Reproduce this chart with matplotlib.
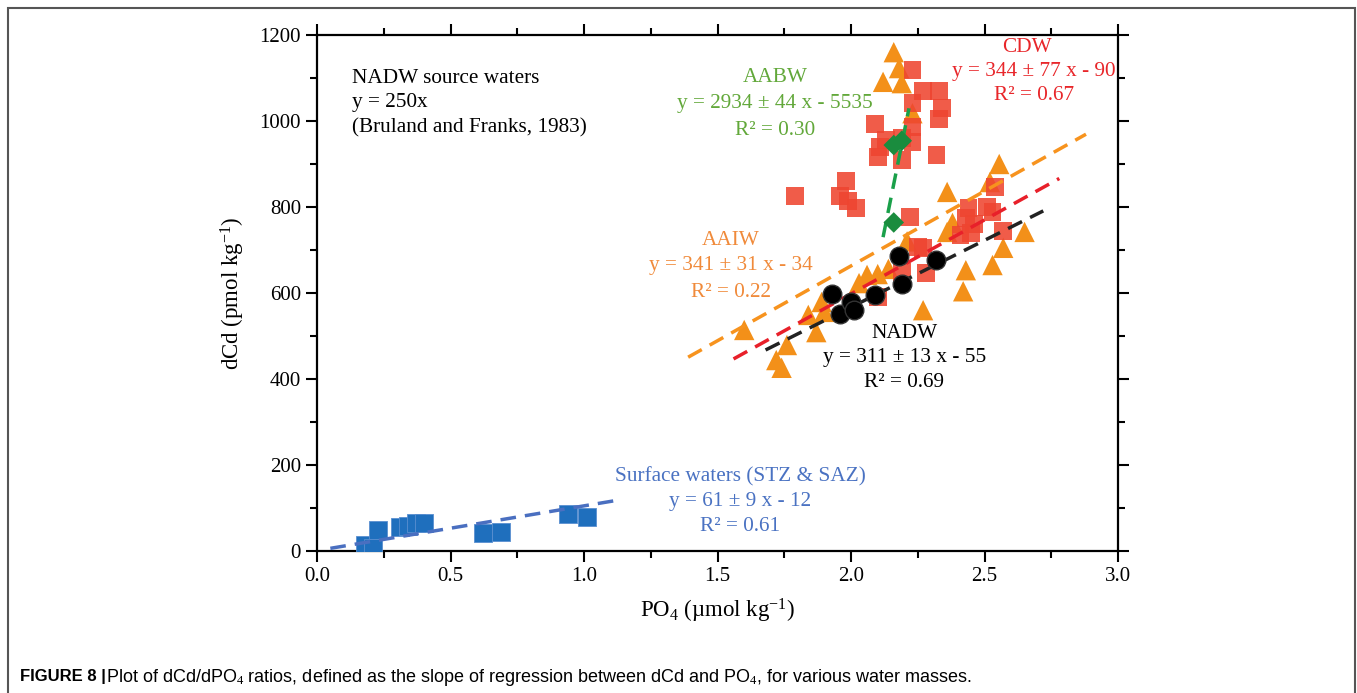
import matplotlib.pyplot as plt
from matplotlib.patches import Rectangle

plt.rcParams['font.family'] = ['Liberation Serif', 'DejaVu Serif']
plt.rcParams['mathtext.fontset'] = 'custom'
plt.rcParams['mathtext.rm'] = 'Liberation Serif'
plt.rcParams['mathtext.it'] = 'Liberation Serif:italic'
plt.rcParams['mathtext.bf'] = 'Liberation Serif:bold'

# surface waters (STZ & SAZ)
surf_x = [0.18, 0.21, 0.23, 0.31, 0.34, 0.37, 0.40, 0.62, 0.69, 0.94, 1.01]
surf_y = [14, 6, 49, 56, 58, 65, 66, 42, 45, 86, 79]

# CDW
cdw_x = [2.23, 2.27, 2.33, 2.23, 2.34, 2.33, 2.09, 2.23, 2.13, 2.11, 2.19, 2.23, 2.10,
         2.19, 2.32, 1.98, 1.79, 1.96, 1.99, 2.02, 2.22, 2.44, 2.51, 2.53, 2.43, 2.41,
         2.45, 2.57, 2.54, 2.25, 2.27, 2.19, 2.28, 2.10, 2.46]
cdw_y = [1119, 1070, 1070, 1042, 1030, 1005, 993, 986, 956, 940, 960, 951, 916,
         909, 921, 860, 826, 826, 814, 798, 777, 797, 800, 788, 774, 735,
         740, 744, 847, 707, 705, 649, 646, 591, 760]

# AAIW
aaiw_x = [2.16, 2.18, 2.12, 2.19, 2.23, 2.36, 2.38, 2.555, 2.52, 2.36, 2.65, 2.57,
          2.53, 2.43, 2.42, 2.27, 2.21, 2.14, 2.10, 2.06, 2.03, 1.89, 1.90, 1.84,
          1.87, 1.60, 1.76, 1.72, 1.74]
aaiw_y = [1160, 1123, 1091, 1088, 1018, 835, 763, 900, 858, 742, 742, 705,
          665, 653, 604, 560, 720, 656, 644, 642, 623, 579, 556, 549,
          509, 514, 479, 444, 426]

# NADW
nadw_x = [1.93, 1.96, 2.00, 2.01, 2.09, 2.18, 2.19, 2.32]
nadw_y = [598, 551, 579, 560, 595, 686, 621, 677]

# AABW
aabw_x = [2.16, 2.19, 2.16]
aabw_y = [944, 954, 764]

# fitted lines as drawn: slope, intercept, x range
fits = {
    'surf': (104, 1, 0.05, 1.14),
    'nadw': (311, -55, 1.68, 2.72),
    'cdw': (344, -90, 1.56, 2.78),
    'aaiw': (348, -33, 1.39, 2.88),
    'aabw': (3090, -5821, 2.12, 2.217),
}

c_blue = '#1f6fbd'
c_blue_txt = '#4a72c2'
c_red = '#ee4530'
c_red_txt = '#e8262a'
c_orange = '#f39019'
c_orange_txt = '#f08a3a'
c_green = '#1a8c3e'
c_green_txt = '#62a83a'

fig = plt.figure(figsize=(13.57, 6.93), dpi=100)
ax = fig.add_axes([0.2336, 0.2049, 0.5903, 0.7446])

ax.scatter(aaiw_x, aaiw_y, marker='^', s=215, color=c_orange, edgecolors='none', zorder=2)
ax.scatter(cdw_x, cdw_y, marker='s', s=165, color=c_red, alpha=0.88, edgecolors='none', zorder=3)
ax.scatter(surf_x, surf_y, marker='s', s=165, color=c_blue, edgecolors='#5a8fd0', linewidths=0.6, zorder=3)


def fit_line(key, color, z):
    a, b, x0, x1 = fits[key]
    ax.plot([x0, x1], [a * x0 + b, a * x1 + b], color=color, lw=2.5,
            dashes=(4.5, 2.6), zorder=z)


fit_line('aaiw', '#f7931e', 4)
fit_line('cdw', '#e8202a', 4)
fit_line('nadw', '#222222', 4)
fit_line('surf', '#4a6fc0', 4)
fit_line('aabw', '#1aa04a', 4)

ax.scatter(nadw_x, nadw_y, marker='o', s=180, color='black', edgecolors='#333333', zorder=5)
ax.scatter(aabw_x, aabw_y, marker='D', s=110, color=c_green, edgecolors='none', zorder=6)

ax.set_xlim(0, 3.0)
ax.set_ylim(0, 1200)
ax.set_xticks([0, 0.5, 1.0, 1.5, 2.0, 2.5, 3.0])
ax.set_xticks([0.25, 0.75, 1.25, 1.75, 2.25, 2.75], minor=True)
ax.set_yticks(range(0, 1201, 200))
ax.set_yticks(range(100, 1200, 200), minor=True)
ax.tick_params(which='both', direction='out', top=True, right=True, width=1.5, labelsize=15)
ax.tick_params(which='major', length=8)
ax.tick_params(which='minor', length=5)
for s in ax.spines.values():
    s.set_linewidth(1.6)

ax.set_xlabel(r'PO$_{\mathregular{4}}$ (µmol kg$^{\mathregular{-1}}$)', fontsize=16.5, labelpad=8)
ax.set_ylabel(r'dCd (pmol kg$^{\mathregular{-1}}$)', fontsize=16.5, labelpad=9)

fs = 15.3
ax.text(0.13, 1098, 'NADW source waters', fontsize=fs, va='center')
ax.text(0.13, 1042, 'y = 250x', fontsize=fs, va='center')
ax.text(0.13, 984, '(Bruland and Franks, 1983)', fontsize=fs, va='center')

ax.text(1.715, 1100, 'AABW', color=c_green_txt, fontsize=fs, ha='center', va='center')
ax.text(1.715, 1040, 'y = 2934 ± 44 x - 5535', color=c_green_txt, fontsize=fs, ha='center', va='center')
ax.text(1.715, 979, 'R² = 0.30', color=c_green_txt, fontsize=fs, ha='center', va='center')

ax.text(2.66, 1170, 'CDW', color=c_red_txt, fontsize=fs, ha='center', va='center')
ax.text(2.685, 1114, 'y = 344 ± 77 x - 90', color=c_red_txt, fontsize=fs, ha='center', va='center', clip_on=False)
ax.text(2.685, 1060, 'R² = 0.67', color=c_red_txt, fontsize=fs, ha='center', va='center')

ax.text(1.55, 721, 'AAIW', color=c_orange_txt, fontsize=fs, ha='center', va='center')
ax.text(1.55, 663, 'y = 341 ± 31 x - 34', color=c_orange_txt, fontsize=fs, ha='center', va='center')
ax.text(1.55, 602, 'R² = 0.22', color=c_orange_txt, fontsize=fs, ha='center', va='center')

ax.text(2.20, 505, 'NADW', color='black', fontsize=fs, ha='center', va='center')
ax.text(2.20, 449, 'y = 311 ± 13 x - 55', color='black', fontsize=fs, ha='center', va='center')
ax.text(2.20, 391, 'R² = 0.69', color='black', fontsize=fs, ha='center', va='center')

ax.text(1.584, 172, 'Surface waters (STZ & SAZ)', color=c_blue_txt, fontsize=fs, ha='center', va='center')
ax.text(1.584, 114, 'y = 61 ± 9 x - 12', color=c_blue_txt, fontsize=fs, ha='center', va='center')
ax.text(1.584, 56, 'R² = 0.61', color=c_blue_txt, fontsize=fs, ha='center', va='center')

# outer frame
fig.patches.append(Rectangle((8 / 1357, -0.01), (1355 - 8) / 1357, (693 - 8) / 693 + 0.01,
                             transform=fig.transFigure, fill=False, edgecolor='#555555', lw=1.5))

cap_font = ['Liberation Sans Narrow', 'Liberation Sans', 'DejaVu Sans']
t1 = fig.text(20 / 1357, 1 - 677 / 693, 'FIGURE 8 |', fontsize=12, fontweight='bold',
              family=cap_font, va='center')
fig.text(106 / 1357, 1 - 677 / 693,
         'Plot of dCd/dPO$_{4}$ ratios, defined as the slope of regression between dCd and PO$_{4}$, for various water masses.',
         fontsize=13, family=cap_font, va='center')

fig.savefig('out.png', dpi=100)
